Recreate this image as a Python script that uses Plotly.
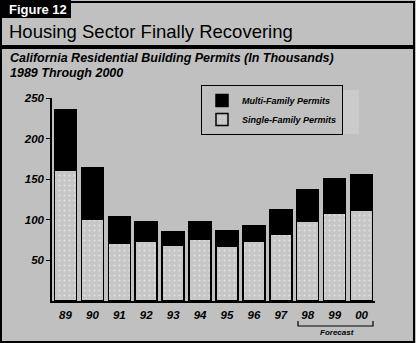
import plotly.graph_objects as go

# ---- data (thousands of permits) ----
years = ["89", "90", "91", "92", "93", "94", "95", "96", "97", "98", "99", "00"]
single_family = [161, 101, 71, 74, 69, 76, 68, 74, 82, 98, 108, 112]
multi_family = [75, 63, 33, 23, 16, 21, 18, 19, 30, 39, 42, 43]
y_ticks = [50, 100, 150, 200, 250]

W, H = 416, 343
ML, MR, MT, MB = 52, 41, 98, 42
PW, PH = W - ML - MR, H - MT - MB
BG = "#c0c0c0"
FONT = "Liberation Sans"


def px(x):
    return (x - ML) / PW


def py(y):
    return (H - MB - y) / PH


fig = go.Figure()
fig.add_trace(go.Bar(
    x=years, y=single_family, name="Single-Family Permits",
    marker=dict(color="#c6c6c6", line=dict(color="black", width=1.5),
                pattern=dict(shape=".", fgcolor="white", bgcolor="#c6c6c6",
                             size=5, solidity=0.12)),
))
fig.add_trace(go.Bar(
    x=years, y=multi_family, name="Multi-Family Permits",
    marker=dict(color="black", line=dict(color="black", width=1.5)),
))

shapes = [
    # outer frame
    dict(type="rect", xref="paper", yref="paper", x0=px(1), x1=px(414),
         y0=py(2), y1=py(342), line=dict(color="black", width=2), layer="below"),
    # thick rule under title
    dict(type="rect", xref="paper", yref="paper", x0=px(0), x1=px(415),
         y0=py(45), y1=py(49), fillcolor="black", line=dict(width=0)),
    # figure label box
    dict(type="rect", xref="paper", yref="paper", x0=px(0), x1=px(71),
         y0=py(0), y1=py(18), fillcolor="black", line=dict(width=0)),
    # legend shadow
    dict(type="rect", xref="paper", yref="paper", x0=px(205), x1=px(359),
         y0=py(90), y1=py(134), fillcolor="#cbcbcb", line=dict(width=0), layer="below"),
    # forecast bracket
    dict(type="path", xref="paper", yref="paper",
         path=f"M {px(298)},{py(321)} L {px(298)},{py(326)} L {px(373)},{py(326)} L {px(373)},{py(321)}",
         line=dict(color="black", width=1.2)),
]

annotations = [
    dict(text="<b>Figure 12</b>", x=px(7), y=py(9), xref="paper", yref="paper",
         xanchor="left", yanchor="middle", showarrow=False,
         font=dict(family=FONT, size=13, color="white")),
    dict(text="Housing Sector Finally Recovering", x=px(7), y=py(31), xref="paper", yref="paper",
         xanchor="left", yanchor="middle", showarrow=False,
         font=dict(family=FONT, size=18.5, color="black")),
    dict(text="<b><i>California Residential Building Permits (In Thousands)</i></b>",
         x=px(8), y=py(58), xref="paper", yref="paper",
         xanchor="left", yanchor="middle", showarrow=False,
         font=dict(family=FONT, size=12.5, color="black")),
    dict(text="<b><i>1989 Through 2000</i></b>",
         x=px(8), y=py(73), xref="paper", yref="paper",
         xanchor="left", yanchor="middle", showarrow=False,
         font=dict(family=FONT, size=12.5, color="black")),
    dict(text="<b><i>Forecast</i></b>", x=px(337), y=py(332), xref="paper", yref="paper",
         xanchor="center", yanchor="middle", showarrow=False,
         font=dict(family=FONT, size=8, color="black")),
]

fig.update_layout(
    width=W, height=H,
    margin=dict(l=ML, r=MR, t=MT, b=MB, pad=0),
    paper_bgcolor=BG, plot_bgcolor=BG,
    barmode="stack", bargap=0.18,
    showlegend=True,
    legend=dict(x=px(201), y=py(85), xanchor="left", yanchor="top",
                bgcolor=BG, bordercolor="black", borderwidth=1,
                traceorder="reversed", itemwidth=30,
                font=dict(family=FONT, size=9, color="black", weight="bold", style="italic"),
                tracegroupgap=4),
    shapes=shapes,
    annotations=annotations,
    xaxis=dict(type="category", range=[-0.5, 11.5], showgrid=False, zeroline=False,
               showline=True, linecolor="black", linewidth=1.5, ticks="",
               ticklabelstandoff=2,
               tickfont=dict(family=FONT, size=11.5, color="black", weight="bold", style="italic")),
    yaxis=dict(range=[0, 250], tickvals=y_ticks, showgrid=False, zeroline=False,
               showline=True, linecolor="black", linewidth=1.5,
               ticks="outside", ticklen=4, tickcolor="black", tickwidth=1,
               tickfont=dict(family=FONT, size=11.5, color="black", weight="bold", style="italic")),
)

fig.write_html("out.html")
